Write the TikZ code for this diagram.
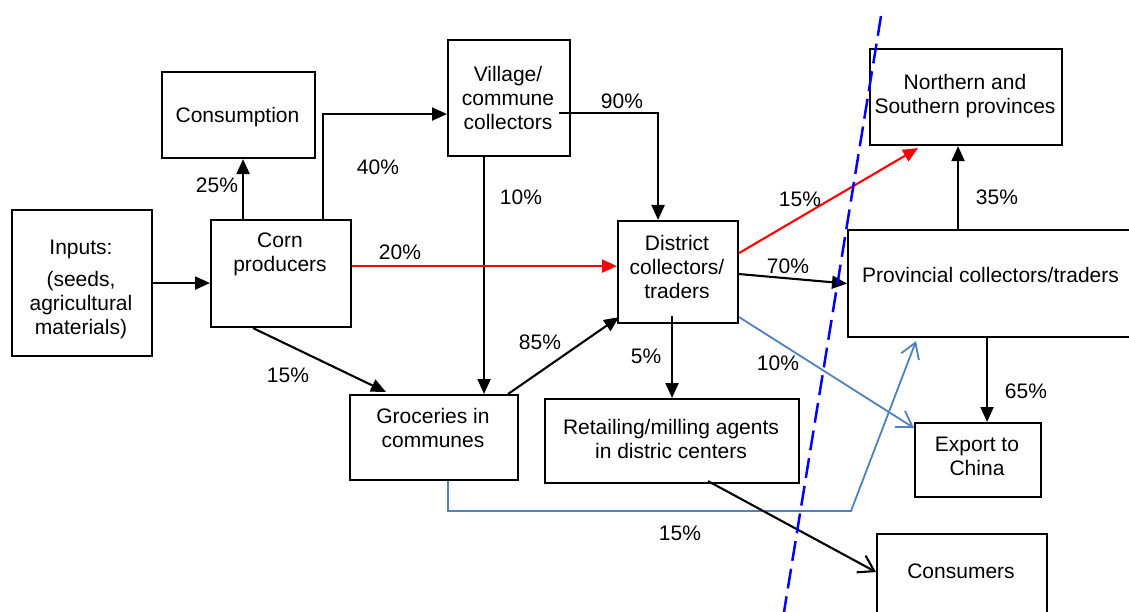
\documentclass[tikz,border=0pt]{standalone}
\usepackage{fontspec}
\setmainfont{Liberation Sans}
\usetikzlibrary{arrows.meta}
\definecolor{steel}{RGB}{79,129,189}
\begin{document}
\begin{tikzpicture}[x=1pt,y=-1pt,
  box/.style={draw=black, line width=2.1pt, rectangle, inner sep=0pt, anchor=north west},
  txt/.style={align=center, inner sep=0pt, font=\fontsize{21}{24}\selectfont},
  pct/.style={inner sep=0pt, font=\fontsize{21}{24}\selectfont},
  arr/.style={line width=2.1pt, -{Triangle[length=15pt,width=13pt]}},
  redarr/.style={arr, draw=red, fill=red},
  bluearr/.style={draw=steel, line width=1.8pt, line join=miter, -{Straight Barb[length=15pt,width=19pt]}},
  openarr/.style={draw=black, line width=2.1pt, -{Straight Barb[length=15pt,width=19pt]}},
  divider/.style={draw=blue, line width=2.5pt, dash pattern=on 20pt off 8pt}
]
\useasboundingbox (0,0) rectangle (1129,612);
\clip (0,0) rectangle (1129,612);

% boxes
\node[box, minimum width=140pt, minimum height=146pt] (inputs) at (11,209) {};
\node[box, minimum width=140pt, minimum height=107pt] (corn) at (210,219) {};
\node[box, minimum width=153pt, minimum height=86pt] (consumption) at (161,71) {};
\node[box, minimum width=122pt, minimum height=116pt] (village) at (447,39) {};
\node[box, minimum width=120pt, minimum height=102pt] (district) at (617,220) {};
\node[box, minimum width=192pt, minimum height=96pt] (northern) at (869,48) {};
\node[box, minimum width=340pt, minimum height=107pt] (provincial) at (847,229) {};
\node[box, minimum width=168pt, minimum height=85pt] (groceries) at (349,394) {};
\node[box, minimum width=254pt, minimum height=84pt] (retailing) at (544,398) {};
\node[box, minimum width=126pt, minimum height=74pt] (export) at (914,422) {};
\node[box, minimum width=170pt, minimum height=107pt] (consumers) at (876,533) {};

% box texts
\node[txt] (inputs-t) at (81,289) {Inputs:\\[8pt](seeds,\\agricultural\\materials)};
\node[txt] (corn-t) at (280,254) {Corn\\producers};
\node[txt] (consumption-t) at (237.5,117) {Consumption};
\node[txt] (village-t) at (508,98) {Village/\\commune\\collectors};
\node[txt] (district-t) at (677,267) {District\\collectors/\\traders};
\node[txt] (northern-t) at (965,96) {Northern and\\Southern provinces};
\node[txt, anchor=west] (provincial-t) at (862,275) {Provincial collectors/traders};
\node[txt] (groceries-t) at (433,428) {Groceries in\\communes};
\node[txt] (retailing-t) at (671,439) {Retailing/milling agents\\in distric centers};
\node[txt] (export-t) at (977,456) {Export to\\China};
\node[txt] (consumers-t) at (961,571) {Consumers};

% connectors
\draw[arr] (inputs.east) -- (inputs.east -| corn.west);
\draw[arr] ([xshift=-38pt]corn.north) -- ([xshift=-38pt]corn.north |- consumption.south);
\draw[arr] ([xshift=42pt]corn.north) |- ([yshift=-16pt]village.west);
\draw[arr] ([xshift=-12pt,yshift=-15pt]village.east) -| ([xshift=-20pt]district.north);
\draw[arr] ([xshift=-25pt]village.south) -- ([xshift=-25pt]village.south |- groceries.north);
\draw[redarr] ([yshift=7.5pt]corn.east) -- ([yshift=7.5pt]corn.east -| district.west);
\draw[arr] ([xshift=-28pt]corn.south) -- ([xshift=-48pt,yshift=2pt]groceries.north);
\draw[arr] ([xshift=74pt]groceries.north) -- ([xshift=2pt,yshift=7pt]district.south west);
\draw[arr] ([yshift=8pt]district.south -| retailing.north) -- (retailing.north);
\draw[redarr] ([yshift=19pt]district.east) -- ([xshift=-48pt,yshift=-2pt]northern.south);
\draw[arr] ([yshift=-2pt]district.east) -- (provincial.west);
\draw[arr] ([xshift=-8pt]northern.south |- provincial.north) -- ([xshift=-8pt]northern.south);
\draw[arr] ([xshift=9pt]export.north |- provincial.south) -- ([xshift=9pt]export.north);
\draw[bluearr] ([yshift=7pt]district.south east) -- ([yshift=-6pt]export.north west);
\coordinate (gbend) at (851,511);
\draw[bluearr] ([xshift=14pt]groceries.south) |- (gbend) -- ([xshift=69pt,yshift=-3pt]provincial.south west);
\draw[openarr] ([xshift=36pt,yshift=3pt]retailing.south) -- ([yshift=15.5pt]consumers.west);

% border line
\coordinate (divtop) at (881,16);
\coordinate (divbot) at (784,612);
\draw[divider] (divtop) -- (divbot);

% shares
\node[pct] (p25) at (217,185) {25\%};
\node[pct] (p40) at (378,167) {40\%};
\node[pct] (p10a) at (521,197) {10\%};
\node[pct] (p20) at (400,252) {20\%};
\node[pct] (p90) at (622,101) {90\%};
\node[pct] (p15r) at (800,199) {15\%};
\node[pct] (p35) at (997,197) {35\%};
\node[pct] (p70) at (788,266) {70\%};
\node[pct] (p85) at (540,342) {85\%};
\node[pct] (p5) at (646,356) {5\%};
\node[pct] (p10b) at (778,363) {10\%};
\node[pct] (p15b) at (680,533) {15\%};
\node[pct] (p15c) at (288,375) {15\%};
\node[pct] (p65) at (1026,391) {65\%};
\end{tikzpicture}
\end{document}
